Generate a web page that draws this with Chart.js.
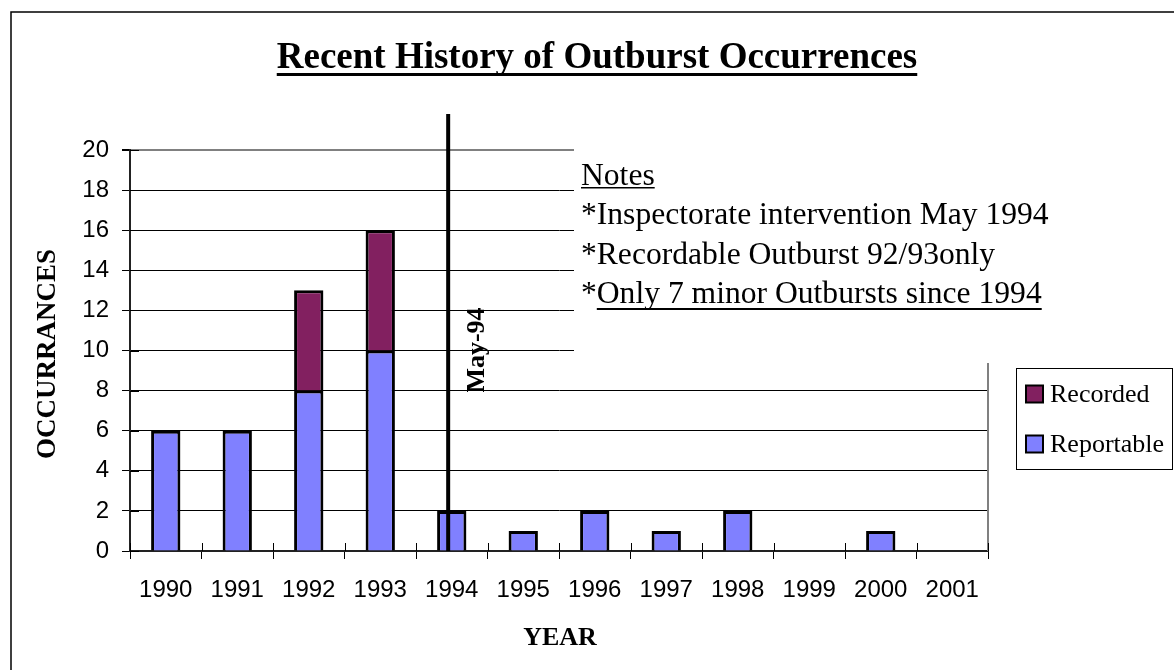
<!DOCTYPE html>
<html>
<head>
<meta charset="utf-8">
<script src="https://cdn.jsdelivr.net/npm/chart.js@4.4.1/dist/chart.umd.min.js"></script>
<style>
html,body{margin:0;padding:0;background:#fff;overflow:hidden;width:1174px;height:670px}
#wrap{position:relative;width:1174px;height:670px;background:#fff}
canvas{display:block}
</style>
</head>
<body>
<div id="wrap"><canvas id="c" width="1174" height="670"></canvas></div>
<script>
// ---- data ----
const chartTitle = 'Recent History of Outburst Occurrences';
const years = ['1990','1991','1992','1993','1994','1995','1996','1997','1998','1999','2000','2001'];
const reportable = [6, 6, 8, 10, 2, 1, 2, 1, 2, 0, 1, 0];
const recorded   = [0, 0, 5, 6, 0, 0, 0, 0, 0, 0, 0, 0];
const yTicks = [0, 2, 4, 6, 8, 10, 12, 14, 16, 18, 20];
const yAxisTitle = 'OCCURRANCES';
const xAxisTitle = 'YEAR';
const markerLabel = 'May-94';
const markerPosition = 3.95;   // in category units (just before the 1994 centre)
const markerTop = 21.8;        // value where the marker line starts
const notesHeading = 'Notes';
const notesLines = ['*Inspectorate intervention May 1994', '*Recordable Outburst 92/93only', '*Only 7 minor Outbursts since 1994'];

const SERIF = "'Liberation Serif','Times New Roman',serif";
const SANS = "'Liberation Sans',Arial,sans-serif";

const toBar = v => (v === 0 ? null : v);

const decor = {
  id: 'decor',
  afterDraw(chart) {
    const ctx = chart.ctx;
    const xs = chart.scales.x, ys = chart.scales.y;
    const area = chart.chartArea;
    ctx.save();

    // outer frame (clipped at right/bottom)
    ctx.strokeStyle = '#000'; ctx.lineWidth = 1.5;
    ctx.strokeRect(11, 12, 1400, 900);

    // plot area right border (gray)
    ctx.strokeStyle = '#808080'; ctx.lineWidth = 2;
    ctx.beginPath(); ctx.moveTo(area.right, area.top); ctx.lineTo(area.right, area.bottom); ctx.stroke();

    // crossing tick marks (inner part) on x axis at category boundaries
    ctx.strokeStyle = '#000'; ctx.lineWidth = 1;
    for (let i = 0; i <= years.length; i++) {
      const px = Math.round(xs.getPixelForValue(i - 0.5)) + 0.5;
      ctx.beginPath(); ctx.moveTo(px, area.bottom - 8); ctx.lineTo(px, area.bottom); ctx.stroke();
    }
    // inner part of y ticks
    yTicks.forEach(v => {
      const py = Math.round(ys.getPixelForValue(v)) + 0.5;
      ctx.beginPath(); ctx.moveTo(area.left, py); ctx.lineTo(area.left + 9, py); ctx.stroke();
    });

    // notes box
    ctx.fillStyle = '#fff';
    ctx.fillRect(574, 138, 500, 225);
    ctx.fillStyle = '#000';
    ctx.font = '31.6px ' + SERIF;
    ctx.textAlign = 'left'; ctx.textBaseline = 'alphabetic';
    const nx = 581;
    const base = [185, 224, 264, 303];
    ctx.fillText(notesHeading, nx, base[0]);
    let w = ctx.measureText(notesHeading).width;
    ctx.fillRect(nx, base[0] + 2, w, 1.5);
    notesLines.forEach((t, i) => ctx.fillText(t, nx, base[i + 1]));
    const star = ctx.measureText('*').width;
    w = ctx.measureText(notesLines[2]).width;
    ctx.fillRect(nx + star, base[3] + 5, w - star, 2);

    // marker line
    const mx = xs.getPixelForValue(markerPosition);
    ctx.strokeStyle = '#000'; ctx.lineWidth = 4;
    ctx.beginPath(); ctx.moveTo(mx, ys.getPixelForValue(markerTop)); ctx.lineTo(mx, area.bottom); ctx.stroke();

    // marker label rotated
    ctx.save();
    ctx.translate(mx + 36, 350);
    ctx.rotate(-Math.PI / 2);
    ctx.font = 'bold 26px ' + SERIF;
    ctx.textAlign = 'center';
    ctx.fillText(markerLabel, 0, 0);
    ctx.restore();

    // title
    ctx.font = 'bold 37px ' + SERIF;
    ctx.textAlign = 'center';
    ctx.fillText(chartTitle, 597, 68);
    w = ctx.measureText(chartTitle).width;
    ctx.fillRect(597 - w / 2, 73, w, 3);

    // y axis title
    ctx.save();
    ctx.translate(55, 354);
    ctx.rotate(-Math.PI / 2);
    ctx.font = 'bold 27px ' + SERIF;
    ctx.textAlign = 'center';
    ctx.fillText(yAxisTitle, 0, 0);
    ctx.restore();

    // x axis title
    ctx.font = 'bold 26px ' + SERIF;
    ctx.textAlign = 'center';
    ctx.fillText(xAxisTitle, 560, 645);

    // legend (reverse dataset order, like the original)
    ctx.strokeStyle = '#000'; ctx.lineWidth = 1;
    ctx.strokeRect(1016.5, 368.5, 156, 101);
    const ds = chart.data.datasets.slice().reverse();
    const ly = [394, 444];
    ctx.font = '26px ' + SERIF;
    ctx.textAlign = 'left'; ctx.textBaseline = 'middle';
    ds.forEach((d, i) => {
      ctx.fillStyle = d.backgroundColor;
      ctx.fillRect(1026, ly[i] - 8.5, 17, 17);
      ctx.strokeStyle = '#000'; ctx.lineWidth = 2;
      ctx.strokeRect(1026, ly[i] - 8.5, 17, 17);
      ctx.fillStyle = '#000';
      ctx.fillText(d.label, 1050, ly[i] + 1);
    });

    ctx.restore();
  }
};

new Chart(document.getElementById('c'), {
  type: 'bar',
  data: {
    labels: years,
    datasets: [
      { label: 'Reportable', data: reportable.map(toBar), backgroundColor: '#8080ff', borderColor: '#000', borderWidth: 3, barPercentage: 0.41, categoryPercentage: 1 },
      { label: 'Recorded', data: recorded.map(toBar), backgroundColor: '#822060', borderColor: '#000', borderWidth: 3, barPercentage: 0.41, categoryPercentage: 1 }
    ]
  },
  options: {
    responsive: false,
    animation: false,
    devicePixelRatio: 1,
    layout: { padding: { left: 0, top: 150, right: 186, bottom: 0 } },
    plugins: { legend: { display: false }, title: { display: false }, tooltip: { enabled: false } },
    scales: {
      x: {
        stacked: true,
        offset: true,
        grid: { display: true, drawOnChartArea: false, drawTicks: true, tickLength: 8, color: '#000', lineWidth: 1 },
        border: { color: '#222', width: 2 },
        ticks: { color: '#000', font: { family: SANS, size: 24 }, padding: 17, maxRotation: 0, autoSkip: false },
        afterFit: s => { s.height = 119; }
      },
      y: {
        stacked: true,
        min: 0, max: 20,
        afterBuildTicks: s => { s.ticks = yTicks.map(v => ({ value: v })); },
        grid: {
          color: c => (c.tick && c.tick.value === 20 ? '#808080' : '#000'),
          lineWidth: c => (c.tick && c.tick.value === 20 ? 2 : 1),
          tickLength: 8, tickColor: '#000'
        },
        border: { color: '#222', width: 2 },
        ticks: { color: '#000', font: { family: SANS, size: 24 }, padding: 13 },
        afterFit: s => { s.width = 130; }
      }
    }
  },
  plugins: [decor]
});
</script>
</body>
</html>
